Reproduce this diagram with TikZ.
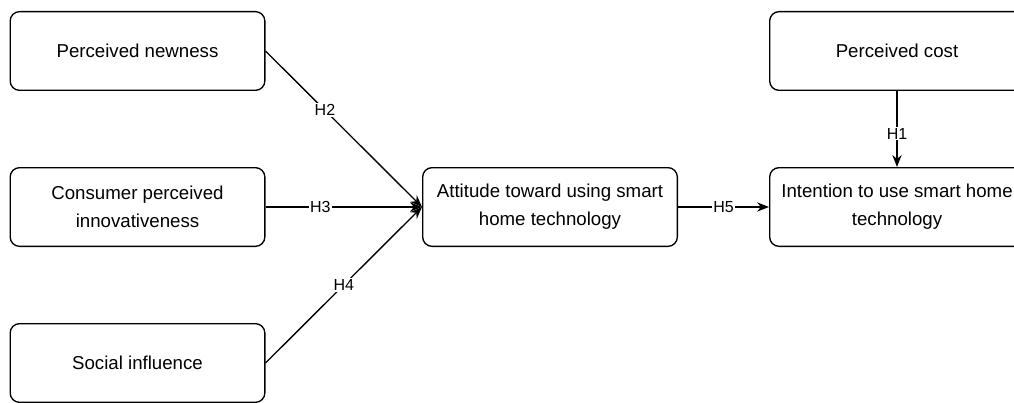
\documentclass[tikz,border=0pt]{standalone}
\usepackage{fontspec}
\setmainfont{Liberation Sans}
\usetikzlibrary{arrows.meta}
\begin{document}
\begin{tikzpicture}[x=0.75pt,y=-0.75pt,
  box/.style={draw,rounded corners=7pt,line width=1pt,minimum width=191pt,minimum height=59pt,align=center,font=\fontsize{14}{21}\selectfont},
  link/.style={line width=1pt,-{Stealth[length=9pt,width=7pt]}},
  hyp/.style={fill=white,inner sep=1pt,font=\fontsize{12}{14}\selectfont}]
\clip (0,0) rectangle (1014,403);
\node[box] (newness) at (137.5,51) {Perceived newness};
\node[box] (innov) at (137.5,207) {Consumer perceived\\innovativeness};
\node[box] (social) at (137.5,363) {Social influence};
\node[box] (attitude) at (550,207) {Attitude toward using smart\\home technology};
\node[box] (intention) at (897,207) {Intention to use smart home\\technology};
\node[box] (cost) at (897,51) {Perceived cost};
\draw[link] (newness.east) -- node[hyp,pos=0.38]{H2} (attitude.west);
\draw[link] (innov.east) -- node[hyp,pos=0.35]{H3} (attitude.west);
\draw[link] (social.east) -- node[hyp,pos=0.5]{H4} (attitude.west);
\draw[link] (attitude.east) -- node[hyp,pos=0.5]{H5} (intention.west);
\draw[link] (cost.south) -- node[hyp,pos=0.56]{H1} (intention.north);
\end{tikzpicture}
\end{document}
